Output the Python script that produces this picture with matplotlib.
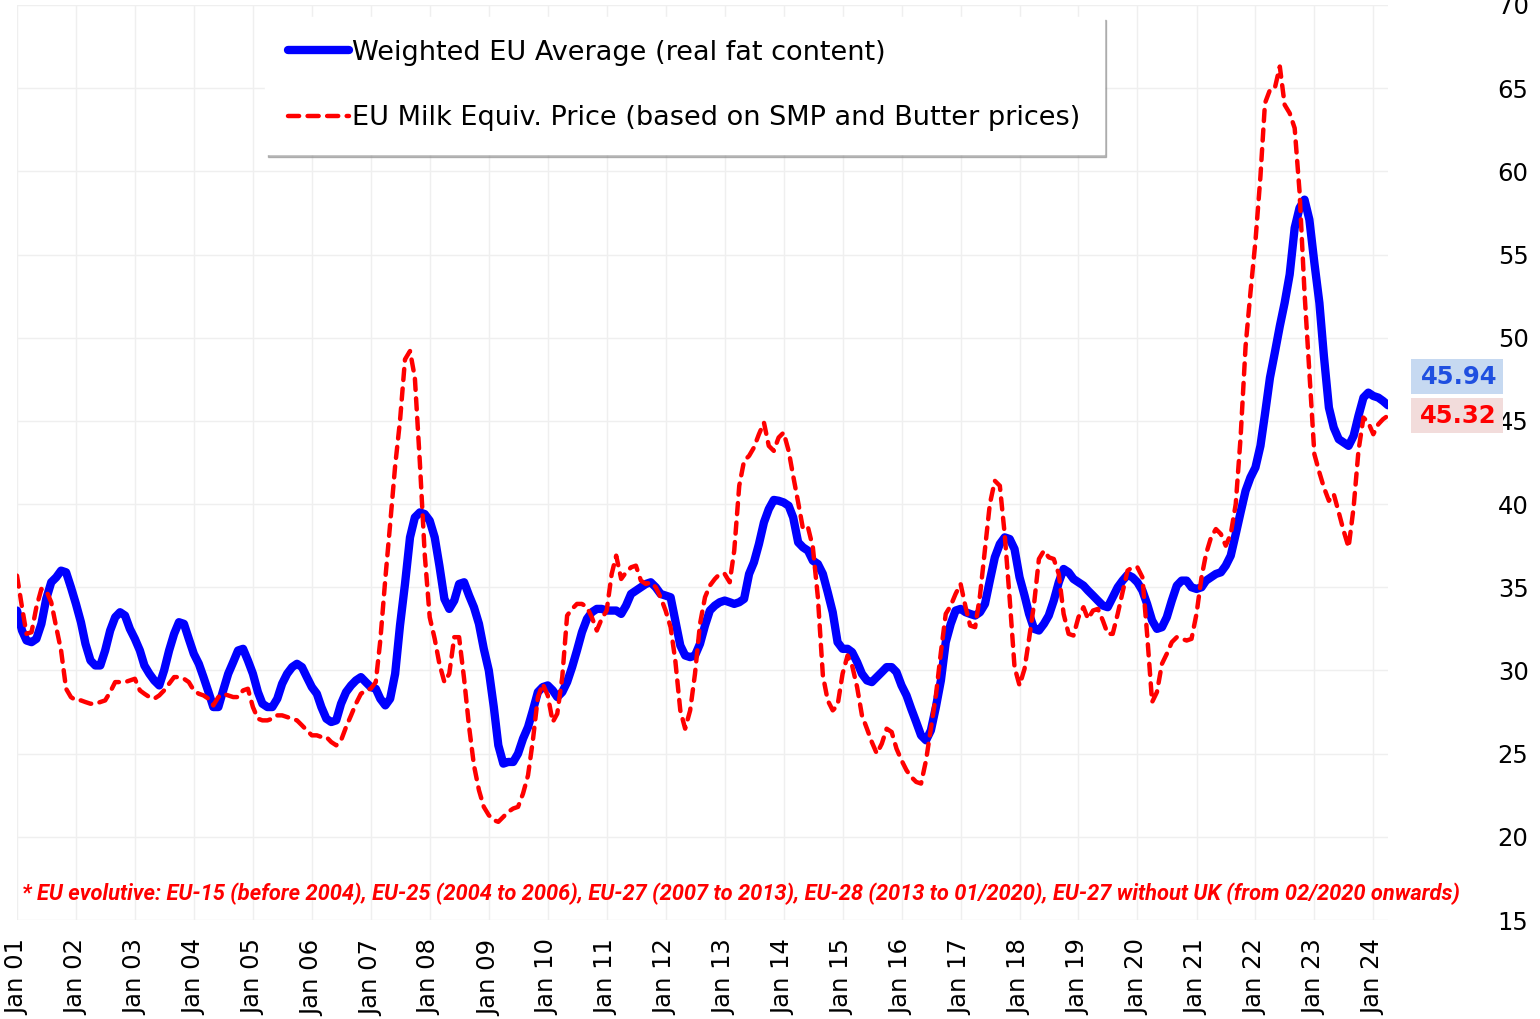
import matplotlib
matplotlib.use("Agg")
import matplotlib.pyplot as plt
import matplotlib.dates as mdates
from matplotlib import font_manager
from matplotlib.patches import Rectangle
import pandas as pd

# monthly data, Jan 2001 .. Apr 2024 (EUR/100 kg)
months = pd.date_range("2001-01-01", periods=280, freq="MS")

weighted_avg = [
    33.6, 32.4, 31.8, 31.7, 31.9, 32.8, 34.3, 35.3, 35.6, 36.0, 35.9, 35.0,   # 2001
    34.0, 32.9, 31.6, 30.6, 30.3, 30.3, 31.2, 32.4, 33.2, 33.5, 33.3, 32.5,   # 2002
    31.9, 31.2, 30.3, 29.8, 29.4, 29.1, 30.0, 31.2, 32.2, 32.9, 32.8, 31.9,   # 2003
    31.0, 30.4, 29.6, 28.7, 27.8, 27.8, 28.8, 29.8, 30.5, 31.2, 31.3, 30.6,   # 2004
    29.8, 28.7, 28.0, 27.8, 27.8, 28.3, 29.2, 29.8, 30.2, 30.4, 30.2, 29.6,   # 2005
    29.0, 28.6, 27.8, 27.1, 26.9, 27.0, 28.0, 28.7, 29.1, 29.4, 29.6, 29.3,   # 2006
    29.0, 28.9, 28.3, 27.9, 28.3, 29.8, 32.7, 35.2, 38.0, 39.2, 39.5, 39.4,   # 2007
    39.0, 38.0, 36.3, 34.3, 33.7, 34.2, 35.2, 35.3, 34.5, 33.8, 32.8, 31.3,   # 2008
    30.0, 27.8, 25.5, 24.4, 24.5, 24.5, 25.0, 25.9, 26.6, 27.6, 28.7, 29.0,   # 2009
    29.1, 28.8, 28.4, 28.7, 29.3, 30.2, 31.2, 32.3, 33.1, 33.5, 33.7, 33.7,   # 2010
    33.6, 33.6, 33.6, 33.4, 33.9, 34.6, 34.8, 35.0, 35.2, 35.3, 35.0, 34.6,   # 2011
    34.5, 34.4, 33.0, 31.5, 30.9, 30.8, 30.9, 31.6, 32.7, 33.6, 33.9, 34.1,   # 2012
    34.2, 34.1, 34.0, 34.1, 34.3, 35.8, 36.5, 37.6, 38.9, 39.7, 40.25, 40.2,  # 2013
    40.1, 39.9, 39.2, 37.7, 37.4, 37.2, 36.6, 36.4, 35.8, 34.7, 33.5, 31.7,   # 2014
    31.3, 31.3, 31.1, 30.5, 29.8, 29.4, 29.3, 29.6, 29.9, 30.2, 30.2, 29.9,   # 2015
    29.1, 28.5, 27.7, 26.9, 26.1, 25.8, 26.4, 27.8, 29.4, 31.7, 32.8, 33.6,   # 2016
    33.7, 33.5, 33.4, 33.3, 33.5, 34.0, 35.4, 36.8, 37.6, 38.0, 37.9, 37.3,   # 2017
    35.6, 34.5, 33.4, 32.5, 32.4, 32.8, 33.3, 34.2, 35.3, 36.1, 35.9, 35.5,   # 2018
    35.3, 35.1, 34.8, 34.5, 34.2, 33.9, 33.8, 34.4, 35.0, 35.4, 35.75, 35.6,  # 2019
    35.3, 34.8, 34.0, 33.0, 32.5, 32.6, 33.2, 34.2, 35.1, 35.4, 35.4, 35.0,   # 2020
    34.9, 35.0, 35.4, 35.6, 35.8, 35.9, 36.3, 36.9, 38.2, 39.5, 40.8, 41.6,   # 2021
    42.2, 43.5, 45.4, 47.6, 49.1, 50.7, 52.1, 53.8, 56.6, 57.8, 58.3, 57.1,   # 2022
    54.5, 52.1, 48.9, 45.8, 44.6, 43.9, 43.7, 43.5, 44.1, 45.3, 46.4, 46.7,   # 2023
    46.5, 46.4, 46.2, 45.94,                                                  # 2024
]

milk_equiv = [
    35.7, 33.8, 32.2, 32.3, 33.8, 34.9, 34.8, 34.1, 32.6, 31.2, 28.9, 28.4,   # 2001
    28.2, 28.2, 28.1, 28.0, 28.0, 28.1, 28.2, 28.7, 29.3, 29.3, 29.3, 29.4,   # 2002
    29.5, 28.8, 28.6, 28.4, 28.3, 28.5, 28.8, 29.2, 29.6, 29.6, 29.5, 29.3,   # 2003
    28.8, 28.6, 28.5, 28.3, 27.9, 28.4, 28.6, 28.5, 28.4, 28.4, 28.8, 28.9,   # 2004
    27.8, 27.1, 27.0, 27.0, 27.1, 27.3, 27.3, 27.2, 27.1, 27.0, 26.7, 26.4,   # 2005
    26.1, 26.1, 26.0, 26.0, 25.7, 25.5, 25.8, 26.6, 27.3, 28.0, 28.6, 28.8,   # 2006
    28.9, 29.3, 31.8, 35.5, 38.8, 42.3, 45.0, 48.7, 49.2, 47.6, 42.5, 37.0,   # 2007
    33.2, 31.9, 30.4, 29.3, 29.8, 32.0, 32.0, 29.5, 26.6, 24.3, 22.8, 21.8,   # 2008
    21.3, 21.0, 20.9, 21.2, 21.5, 21.7, 21.8, 22.6, 23.7, 25.8, 28.4, 29.2,   # 2009
    28.5, 26.9, 27.4, 29.6, 33.3, 33.7, 34.0, 34.0, 33.8, 33.2, 32.4, 33.1,   # 2010
    33.6, 35.8, 36.9, 35.5, 35.9, 36.2, 36.3, 35.4, 35.2, 35.3, 35.0, 34.4,   # 2011
    33.6, 32.6, 30.6, 27.6, 26.5, 27.6, 29.8, 32.8, 34.4, 35.1, 35.5, 35.8,   # 2012
    35.8, 35.3, 37.2, 41.1, 42.6, 42.9, 43.4, 44.2, 44.9, 43.5, 43.2, 44.0,   # 2013
    44.3, 43.2, 41.7, 40.1, 38.5, 38.6, 37.4, 34.4, 29.7, 28.2, 27.6, 27.9,   # 2014
    29.8, 30.9, 30.3, 29.0, 27.3, 26.5, 25.7, 25.0, 25.6, 26.5, 26.3, 25.3,   # 2015
    24.6, 24.0, 23.6, 23.3, 23.2, 24.6, 26.5, 28.5, 31.1, 33.4, 33.9, 34.6,   # 2016
    35.2, 33.8, 32.7, 32.6, 34.5, 37.3, 40.0, 41.4, 41.1, 38.2, 34.3, 30.2,   # 2017
    29.1, 30.1, 31.9, 34.0, 36.7, 37.2, 36.8, 36.7, 35.8, 33.4, 32.2, 32.1,   # 2018
    33.2, 33.8, 33.1, 33.6, 33.7, 33.0, 32.2, 32.2, 33.4, 34.7, 36.0, 36.2,   # 2019
    36.2, 35.6, 32.2, 28.1, 28.7, 30.4, 31.0, 31.7, 32.0, 31.9, 31.8, 31.9,   # 2020
    33.4, 35.6, 37.0, 38.0, 38.5, 38.2, 37.5, 38.2, 40.0, 44.0, 49.5, 52.7,   # 2021
    55.8, 59.7, 64.1, 64.9, 65.0, 66.3, 64.0, 63.5, 62.6, 58.8, 52.7, 47.9,   # 2022
    43.0, 41.9, 41.0, 40.2, 40.6, 39.5, 38.4, 37.4, 39.8, 43.2, 45.2, 44.9,   # 2023
    44.2, 44.8, 45.1, 45.32,                                                  # 2024
]

series_labels = ["Weighted EU Average (real fat content)",
                 "EU Milk Equiv. Price (based on SMP and Butter prices)"]
footnote = ("* EU evolutive: EU-15 (before 2004), EU-25 (2004 to 2006), EU-27 (2007 to 2013), "
            "EU-28 (2013 to 01/2020), EU-27 without UK (from 02/2020 onwards)")

W, H = 1540, 1019
fig = plt.figure(figsize=(W / 100, H / 100), dpi=100)
ax = fig.add_axes([17 / W, 1 - 920 / H, 1371 / W, 915 / H])

ax.plot(months, weighted_avg, color="#0000ff", lw=6, solid_capstyle="round",
        solid_joinstyle="round", label=series_labels[0], zorder=3)
ax.plot(months, milk_equiv, color="#ff0000", lw=3.2, dashes=(2.5, 1.9),
        dash_capstyle="round", label=series_labels[1], zorder=4)

ax.set_xlim(months[0], months[-1])
ax.set_ylim(15, 70)
ax.yaxis.tick_right()
ax.set_yticks(range(15, 71, 5))
ax.xaxis.set_major_locator(mdates.YearLocator())
ax.xaxis.set_major_formatter(mdates.DateFormatter("%b %y"))
ax.tick_params(axis="x", rotation=90, length=0, pad=14, labelsize=17.5)
ax.tick_params(axis="y", length=0, pad=79, labelsize=17.5)
ax.grid(color="#efefef", lw=1)
ax.set_axisbelow(True)
for s in ax.spines.values():
    s.set_visible(False)

leg = ax.legend(loc="upper left", bbox_to_anchor=(0.181, 0.987), borderaxespad=0,
                fontsize=19.5, handlelength=2.25, handletextpad=0.12, borderpad=0.85,
                labelspacing=1.45, fancybox=False, shadow={"color": "0.55", "alpha": 0.6},
                edgecolor="white", framealpha=1)

# end-of-series value boxes
fig.canvas.draw()
_, y_red = ax.transData.transform((0, milk_equiv[-1]))
for val, yc, tcol, bcol in [(milk_equiv[-1], y_red, "#ff0000", "#f2dcdb"),
                            (weighted_avg[-1], y_red + 39, "#1f4fe0", "#c6d9f1")]:
    fig.patches.append(Rectangle((1411 / W, (yc - 17.5) / H), 92 / W, 35 / H,
                                 transform=fig.transFigure, fc=bcol, ec="none"))
    fig.text(1497 / W, yc / H, f"{val:.2f}", ha="right", va="center",
             fontsize=17.5, fontweight="bold", color=tcol)

# footnote, narrow bold italic, stretched to the width of the original
fam = "DejaVu Sans"
for cand in ["Liberation Sans Narrow", "Roboto", "Liberation Sans"]:
    try:
        font_manager.findfont(cand, fallback_to_default=False)
        fam = cand
        break
    except Exception:
        pass
note = fig.text(22 / W, 1 - 894 / H, footnote, color="#ff0000", fontsize=16,
                fontweight="bold", style="italic", family=fam, va="center")
fig.canvas.draw()
w = note.get_window_extent().width
note.set_fontsize(16 * 1443 / w)

fig.savefig("out.png", dpi=100)
